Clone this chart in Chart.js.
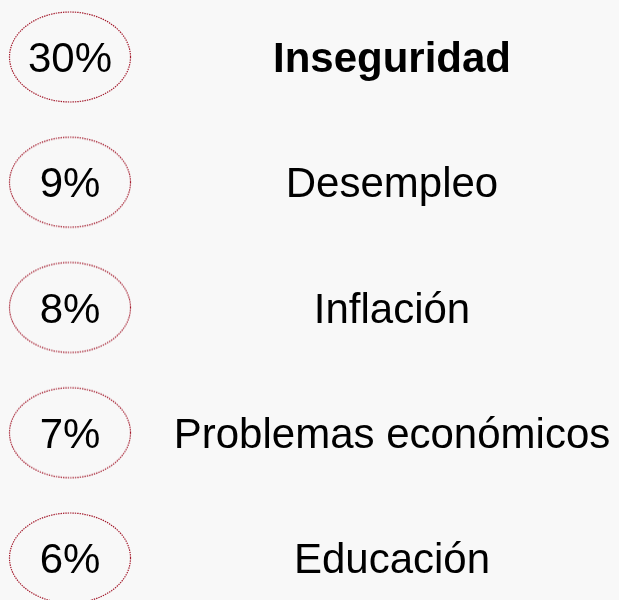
<!DOCTYPE html>
<html lang="es">
<head>
  <meta charset="UTF-8" />
  <title>Principales problemas</title>
  <script src="https://cdn.jsdelivr.net/npm/chart.js"></script>
  <style>
    html, body { margin: 0; padding: 0; background: #f8f8f8; }
    #wrap { width: 619px; height: 600px; }
  </style>
</head>
<body>
  <div id="wrap"><canvas id="chart" width="619" height="600"></canvas></div>

  <script>
    // datos
    const categories = ["Inseguridad", "Desempleo", "Inflación", "Problemas económicos", "Educación"];
    const values = [30, 9, 8, 7, 6];
    const columns = ["porcentaje", "tema"];

    const FONT = "'Liberation Sans', Arial, sans-serif";
    const SIZE = 42;

    // elipse punteada como estilo de punto
    function ellipseImage() {
      const c = document.createElement("canvas");
      c.width = 126;
      c.height = 94;
      const ctx = c.getContext("2d");
      ctx.strokeStyle = "#a3192b";
      ctx.lineWidth = 1.2;
      ctx.setLineDash([1.4, 1]);
      ctx.beginPath();
      ctx.ellipse(63, 47, 60.5, 45, 0, 0, Math.PI * 2);
      ctx.stroke();
      return c;
    }
    const ring = ellipseImage();

    const textPlugin = {
      id: "textos",
      afterDatasetsDraw(chart) {
        const ctx = chart.ctx;
        ctx.save();
        ctx.fillStyle = "#000";
        ctx.textAlign = "center";
        ctx.textBaseline = "alphabetic";
        const off = SIZE * 0.358;

        chart.getDatasetMeta(0).data.forEach((pt, i) => {
          ctx.font = `${SIZE}px ${FONT}`;
          ctx.fillText(values[i] + "%", pt.x, pt.y + off);
        });
        chart.getDatasetMeta(1).data.forEach((pt, i) => {
          ctx.font = (i === 0 ? "bold " : "") + `${SIZE}px ${FONT}`;
          ctx.fillText(categories[i], pt.x, pt.y + off);
        });
        ctx.restore();
      }
    };

    new Chart(document.getElementById("chart"), {
      type: "scatter",
      data: {
        datasets: [
          {
            data: categories.map(c => ({ x: columns[0], y: c })),
            pointStyle: ring,
            clip: false
          },
          {
            data: categories.map(c => ({ x: columns[1], y: c })),
            pointRadius: 0
          }
        ]
      },
      options: {
        responsive: false,
        animation: false,
        events: [],
        layout: { padding: { left: 70, right: 227, top: 57, bottom: 42 } },
        plugins: { legend: { display: false }, tooltip: { enabled: false } },
        scales: {
          x: { type: "category", labels: columns, offset: false, display: false },
          y: { type: "category", labels: categories, offset: false, display: false }
        }
      },
      plugins: [textPlugin]
    });
  </script>
</body>
</html>
